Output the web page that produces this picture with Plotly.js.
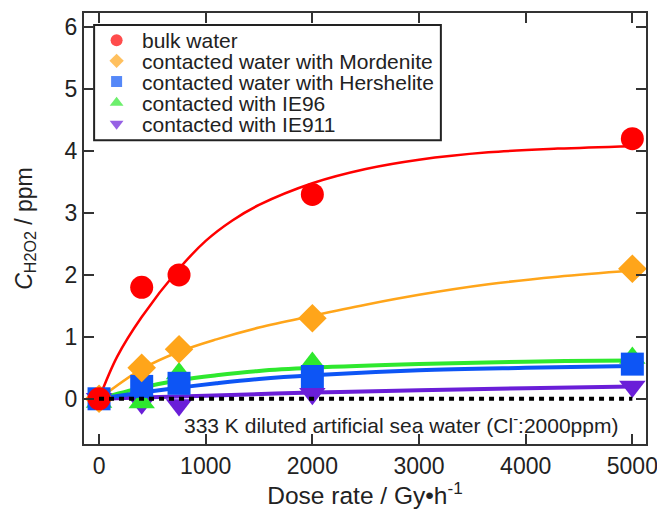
<!DOCTYPE html>
<html>
<head>
<meta charset="utf-8">
<script src="https://cdn.plot.ly/plotly-3.0.1.min.js"></script>
<style>html,body{margin:0;padding:0;background:#fff;}#chart{width:657px;height:509px;}</style>
</head>
<body>
<div id="chart"></div>
<script>
// Measured points
const dose = [0, 400, 750, 2000, 5000];
const bulkWater = [0, 1.8, 2.0, 3.3, 4.2];
const mordenite = [0, 0.5, 0.8, 1.3, 2.1];
const hershelite = [0, 0.2, 0.25, 0.36, 0.56];
const ie96 = [-0.05, -0.06, 0.41, 0.58, 0.66];
const ie911 = [0, -0.07, -0.1, 0.08, 0.2];

// Fitted curves
const fitBulkX = [0, 170, 400, 750, 1000, 1250, 1500, 2000, 2500, 3000, 3650, 4300, 5000];
const fitBulkY = [0, 0.68, 1.32, 2.1, 2.55, 2.88, 3.13, 3.48, 3.71, 3.86, 3.98, 4.04, 4.08];
const fitMordX = [0, 400, 750, 1100, 1500, 2000, 2500, 3000, 3650, 4300, 5000];
const fitMordY = [0, 0.48, 0.76, 0.96, 1.15, 1.34, 1.52, 1.68, 1.85, 1.97, 2.07];
const fitIE96X = [0, 400, 750, 1100, 1500, 2000, 3000, 4000, 5000, 5100];
const fitIE96Y = [0, 0.18, 0.3, 0.38, 0.45, 0.5, 0.56, 0.6, 0.62, 0.62];
const fitHersX = [0, 400, 750, 1100, 1500, 2000, 3000, 4000, 5000];
const fitHersY = [0, 0.1, 0.18, 0.25, 0.32, 0.38, 0.46, 0.5, 0.53];
const fitIE911X = [0, 400, 1000, 2000, 3000, 4000, 5000];
const fitIE911Y = [0, 0.02, 0.05, 0.1, 0.14, 0.17, 0.2];

const baselineX = [0, 5000];
const baselineY = [0, 0];

const names = ['bulk water', 'contacted water with Mordenite', 'contacted water with Hershelite', 'contacted with IE96', 'contacted with IE911'];
const colors = ['#ff0000', '#ffa51a', '#0d55f5', '#2ee82e', '#6a1ed8'];
const symbols = ['circle', 'diamond', 'square', 'triangle-up', 'triangle-down'];

const traces = [];
const fits = [[fitIE911X, fitIE911Y, 4, 4], [fitIE96X, fitIE96Y, 3, 4], [fitHersX, fitHersY, 2, 4], [fitMordX, fitMordY, 1, 2.5], [fitBulkX, fitBulkY, 0, 2.5]];
fits.forEach(f => traces.push({
  x: f[0], y: f[1], mode: 'lines', showlegend: false, hoverinfo: 'skip',
  line: {color: colors[f[2]], width: f[3], shape: 'spline', smoothing: 1}
}));

const markerDefs = [
  [ie911, 4, 23],
  [ie96, 3, 23],
  [hershelite, 2, 23],
  [mordenite, 1, 22],
  [bulkWater, 0, 23]
];
markerDefs.forEach(m => traces.push({
  x: dose, y: m[0], mode: 'markers', name: names[m[1]], showlegend: false,
  marker: {color: colors[m[1]], symbol: symbols[m[1]], size: m[2], line: {width: 0}}
}));

traces.push({
  x: baselineX, y: baselineY, mode: 'lines', showlegend: false, hoverinfo: 'skip',
  line: {color: '#000', width: 4, dash: '5px,5px'}
});

// Legend box (drawn in plot-fraction coordinates)
const legX0 = 0.018, legX1 = 0.635, legY0 = 0.705, legY1 = 0.972;
const legSymX = 0.058, legTextX = 0.1;
const legRowY = [0.937, 0.889, 0.841, 0.792, 0.743];
traces.push({
  x: legRowY.map(() => legSymX), y: legRowY, xaxis: 'x2', yaxis: 'y2',
  mode: 'markers', showlegend: false, hoverinfo: 'skip', cliponaxis: false,
  marker: {color: colors, symbol: symbols, size: [12, 11, 11, 12, 12], line: {width: 0}}
});

const fontFam = 'Liberation Sans, Arial, Helvetica, sans-serif';
const axisCommon = {
  showgrid: false, zeroline: false, showline: true, linecolor: '#333', linewidth: 2,
  mirror: 'ticks', ticks: 'inside', ticklen: 10, tickwidth: 2, tickcolor: '#333',
  tickfont: {family: fontFam, size: 23, color: '#222'}, ticklabeloverflow: 'allow'
};

const annotations = names.map((n, i) => ({
  x: legTextX, y: legRowY[i], xref: 'paper', yref: 'paper', xanchor: 'left', yanchor: 'middle',
  height: 20, valign: 'middle',
  showarrow: false, text: n, font: {family: fontFam, size: 21, color: '#222'}
}));
annotations.push({
  x: 2831, y: -0.4, xref: 'x', yref: 'y', showarrow: false,
  text: '333 K diluted artificial sea water (Cl<sup>-</sup>:2000ppm)',
  font: {family: fontFam, size: 21, color: '#222'}
});

const layout = {
  width: 657, height: 509,
  margin: {l: 84, r: 11, t: 13, b: 65},
  paper_bgcolor: '#fff', plot_bgcolor: '#fff',
  font: {family: fontFam, color: '#222'},
  showlegend: false,
  xaxis: Object.assign({}, axisCommon, {
    range: [-141, 5128], tickvals: [0, 1000, 2000, 3000, 4000, 5000],
    title: {text: 'Dose rate / Gy•h<sup>-1</sup>', font: {family: fontFam, size: 24.5, color: '#222'}, standoff: 10}
  }),
  yaxis: Object.assign({}, axisCommon, {
    range: [-0.73, 6.23], tickvals: [0, 1, 2, 3, 4, 5, 6],
    title: {text: '<i>C</i><sub>H2O2</sub> / ppm', font: {family: fontFam, size: 23, color: '#222'}, standoff: 26}
  }),
  xaxis2: {overlaying: 'x', range: [0, 1], visible: false, fixedrange: true},
  yaxis2: {overlaying: 'y', range: [0, 1], visible: false, fixedrange: true},
  shapes: [{
    type: 'rect', xref: 'paper', yref: 'paper', x0: legX0, x1: legX1, y0: legY0, y1: legY1,
    line: {color: '#222', width: 2}, fillcolor: '#fff', layer: 'below'
  }],
  annotations: annotations
};

Plotly.newPlot('chart', traces, layout, {displayModeBar: false, staticPlot: true});
</script>
</body>
</html>
